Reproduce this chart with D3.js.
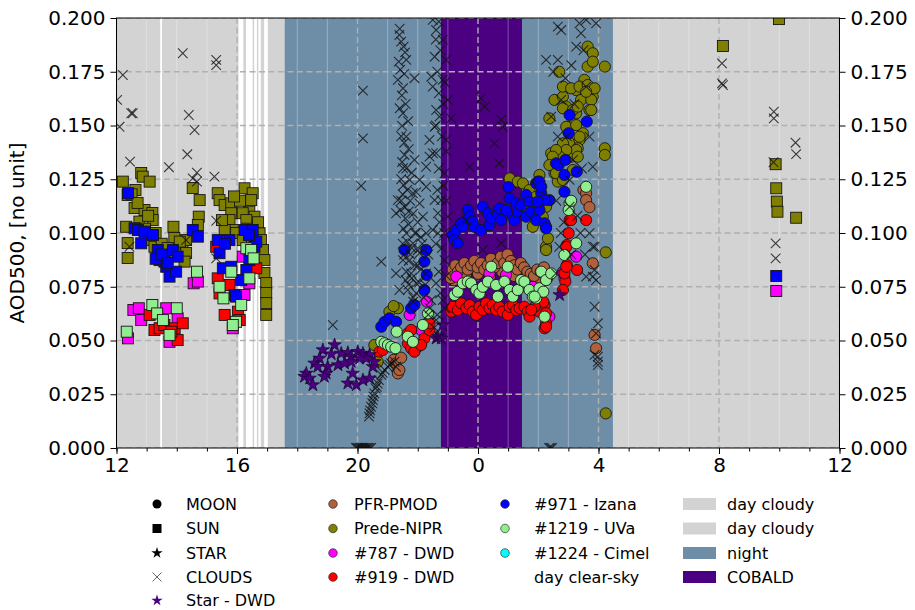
<!DOCTYPE html>
<html>
<head>
<meta charset="utf-8">
<script src="https://cdn.jsdelivr.net/npm/d3@7"></script>
<style>
  body { margin: 0; background: #fff; }
  svg { font-family: "DejaVu Sans", sans-serif; }
</style>
</head>
<body>
<svg id="chart" width="915" height="610"></svg>
<script>
// Time axis: hours since midnight of day 1 (12 = noon day 1, 36 = noon day 2); AOD at 500 nm.

const xTicks = [12, 16, 20, 24, 28, 32, 36];
const yTicks = [0, 0.025, 0.05, 0.075, 0.1, 0.125, 0.15, 0.175, 0.2];

// Background periods [start hour, end hour]
const dayCloudySpans = [[12, 17.58], [28.48, 36]];
const clearSkySpans = [[13.45, 13.51], [16.05, 16.21], [16.30, 16.52], [16.57, 16.66], [16.71, 16.79], [16.90, 17.02]];
const nightSpans = [[17.58, 28.48]];
const cobaldSpans = [[22.77, 25.46]];

// SUN photometry (squares)
const sunPrede = [
  [12.21,0.1239],[12.82,0.1279],[12.87,0.1262],[13.10,0.1239],[12.63,0.1200],[12.37,0.1177],[12.60,0.1116],[12.93,0.1107],
  [13.19,0.1093],[13.20,0.1060],[12.32,0.1029],[12.37,0.0953],[12.37,0.0884],[12.76,0.1053],[13.10,0.0967],[13.26,0.0936],
  [13.43,0.0913],[13.59,0.0898],[13.89,0.1029],[13.92,0.0977],[14.19,0.0936],[14.31,0.0907],[14.26,0.0867],[14.53,0.1209],
  [14.76,0.1153],[14.73,0.1076],[14.70,0.1037],[15.36,0.1185],[15.42,0.1153],[15.59,0.1130],[15.81,0.1138],[15.81,0.1092],
  [15.75,0.1060],[15.86,0.1014],[15.59,0.1014],[16.25,0.1208],[16.52,0.1185],[16.47,0.1153],[16.41,0.1099],[16.58,0.1076],
  [16.64,0.1029],[16.75,0.0999],[16.80,0.0967],[16.86,0.0921],[16.91,0.0874],[16.91,0.0814],[16.97,0.0767],[16.97,0.0721],
  [16.97,0.0674],[16.97,0.0619],[16.19,0.1092],[16.31,0.1060],[15.97,0.1000],[16.19,0.0967],[14.31,0.0967],
  [12.50,0.1180],[12.70,0.1140],[12.95,0.1020],[13.05,0.1080],[13.30,0.1000],[13.50,0.0950],[13.70,0.0930],[13.95,0.0900],
  [14.10,0.0960],[16.10,0.1150],[16.35,0.1020],[16.50,0.0960],[16.70,0.1050],[15.50,0.1060],[15.90,0.1170],
  [32.13,0.1870],[33.99,0.1995],[33.88,0.1320],[33.90,0.1208],[33.92,0.1146],[33.94,0.1099],[34.56,0.1071]
];
const sun787 = [
  [12.38,0.0510],[12.56,0.0642],[12.74,0.0650],[12.82,0.0595],[13.65,0.0650],[14.03,0.0603],[13.76,0.0494],[14.56,0.0766],
  [14.70,0.0774],[15.86,0.0557],[16.25,0.0712],[16.19,0.0890],[16.41,0.0766],[33.90,0.0730]
];
const sun919 = [
  [13.10,0.0619],[13.26,0.0549],[13.43,0.0557],[13.59,0.0572],[13.93,0.0557],[14.03,0.0502],[14.20,0.0580],[13.82,0.0541],
  [15.36,0.0789],[15.42,0.0719],[15.59,0.0619],[15.75,0.0758],[16.03,0.0634],[16.09,0.0595],[16.64,0.0836],[15.31,0.0936]
];
const sun971 = [
  [12.38,0.1185],[12.60,0.1022],[12.71,0.1014],[12.93,0.1006],[13.21,0.0991],[12.82,0.0952],[13.37,0.0921],[13.43,0.0874],
  [13.59,0.0867],[13.65,0.0843],[13.76,0.0797],[13.87,0.0921],[14.03,0.0890],[13.98,0.0820],[14.53,0.1014],[14.70,0.0983],
  [15.36,0.0967],[15.42,0.0906],[15.75,0.0967],[15.53,0.0836],[15.81,0.0843],[15.92,0.0712],[15.97,0.0704],[16.25,0.1014],
  [16.52,0.1014],[16.41,0.0874],[16.31,0.0828],[16.14,0.0781],[16.58,0.0936],[16.64,0.0960],[13.30,0.0880],[13.50,0.0900],
  [13.70,0.0860],[15.60,0.0950],[16.40,0.0990],[33.90,0.0800]
];
const sun1219 = [
  [12.34,0.0541],[13.19,0.0665],[13.35,0.0626],[13.54,0.0595],[13.76,0.0526],[14.00,0.0650],[14.67,0.0820],[15.42,0.0750],
  [15.55,0.0696],[15.81,0.0820],[15.97,0.0587],[15.86,0.0572],[16.14,0.0665],[16.31,0.0929],[16.47,0.0921],[16.55,0.0882],
  [16.41,0.0789]
];

// MOON photometry (circles)
const moonPFR = [
  [21.20,0.0410],[21.28,0.0394],[21.34,0.0347],[21.39,0.0363],[21.45,0.0420],[22.00,0.0471],
  [23.20,0.0780],[23.60,0.0800],[24.00,0.0810],[24.40,0.0800],[24.80,0.0820],[25.20,0.0800],[25.60,0.0790],[26.00,0.0780],
  [23.10,0.0790],[23.16,0.0830],[23.25,0.0850],[23.33,0.0820],[23.44,0.0840],[23.55,0.0860],[23.66,0.0830],[23.77,0.0850],
  [23.88,0.0870],[23.99,0.0840],[24.10,0.0860],[24.21,0.0830],[24.32,0.0850],[24.43,0.0880],[24.54,0.0840],[24.65,0.0860],
  [24.76,0.0890],[24.87,0.0860],[24.98,0.0900],[25.09,0.0870],[25.20,0.0850],[25.31,0.0830],[25.42,0.0860],[25.53,0.0840],
  [25.64,0.0820],[25.75,0.0810],[25.86,0.0800],[25.97,0.0830],[26.08,0.0820],[26.19,0.0840],[26.30,0.0790],
  [27.50,0.1200],[27.59,0.1185],[27.59,0.1153],[27.70,0.1120],[27.81,0.0859],[27.87,0.0526],[27.92,0.0464]
];
const moonPrede = [
  [20.56,0.0479],[20.67,0.0401],[21.06,0.0634],[21.34,0.0650],[21.20,0.0660],
  [25.05,0.1254],[25.32,0.1239],[25.49,0.1231],[25.71,0.1200],[25.82,0.1153],[25.71,0.1092],[25.93,0.1076],[25.82,0.1029],
  [26.04,0.1270],[26.26,0.1122],[26.26,0.1029],[26.26,0.0936],[26.32,0.0975],[26.26,0.0921],[26.15,0.1076],
  [26.37,0.1533],[26.54,0.1619],[26.70,0.1750],[26.43,0.1371],[26.54,0.1278],[26.65,0.1239],[26.59,0.1324],
  [26.82,0.1634],[26.93,0.1588],[26.98,0.1494],[27.04,0.1417],[27.09,0.1355],[27.15,0.1293],
  [27.26,0.1665],[27.42,0.1619],[27.26,0.1557],[27.48,0.1464],[27.37,0.1433],[27.31,0.1394],
  [27.53,0.1712],[27.64,0.1774],[27.81,0.1634],[27.70,0.1572],[27.64,0.1867],[27.81,0.1836],[27.81,0.1797],
  [26.82,0.1681],[27.09,0.1673],[27.37,0.1681],[27.64,0.1688],[27.87,0.1673],[27.76,0.1619],[27.59,0.1657],
  [26.82,0.1580],[27.15,0.1572],[27.31,0.1588],[27.76,0.1572],
  [26.93,0.1494],[27.26,0.1502],[27.37,0.1448],[27.26,0.1386],[27.31,0.1355],[26.82,0.1417],[26.93,0.1386],[26.71,0.1355],
  [26.59,0.1386],[26.48,0.1355],[26.37,0.1316],[26.59,0.1278],[26.82,0.1247],[25.77,0.1146],[25.93,0.1169],
  [28.21,0.1774],[28.21,0.1394],[28.21,0.1363],[28.24,0.0910],[28.24,0.0161]
];
const moon787 = [
  [21.73,0.0619],[22.30,0.0681],[22.11,0.0549],[23.28,0.0797],[24.38,0.0812],[24.93,0.0805],[25.82,0.0750],[26.15,0.0650],
  [27.26,0.0890],[26.82,0.0820],[26.37,0.0611],[26.87,0.0790]
];
const moon919 = [
  [20.73,0.0448],[20.84,0.0456],[21.67,0.0533],[21.78,0.0549],[21.67,0.0487],[21.78,0.0464],[21.89,0.0448],[22.22,0.0510],
  [22.39,0.0549],[22.39,0.0580],[22.11,0.0479],
  [23.11,0.0634],[23.16,0.0657],[23.33,0.0642],[23.44,0.0673],[23.61,0.0650],[23.72,0.0665],[23.83,0.0634],[23.94,0.0619],
  [24.05,0.0657],[24.16,0.0642],[24.27,0.0673],[24.38,0.0650],[24.49,0.0665],[24.60,0.0642],[24.71,0.0657],[24.82,0.0634],
  [24.99,0.0619],[25.05,0.0657],[25.16,0.0665],[25.27,0.0642],[25.38,0.0650],[25.54,0.0657],[25.65,0.0634],[25.71,0.0611],
  [25.82,0.0642],[25.93,0.0657],[26.04,0.0634],[26.21,0.0665],[26.26,0.0627],
  [26.21,0.0557],[26.26,0.0580],
  [27.04,0.1060],[27.01,0.0999],[26.95,0.0944],[26.95,0.0851],[26.90,0.0774],[26.82,0.0735],[27.59,0.1060],[27.29,0.0828],
  [26.87,0.0812],[26.93,0.0843],[26.93,0.0936],[27.09,0.1060],
  [26.17,0.0680],[26.26,0.0564],[25.88,0.0657],[25.77,0.0642]
];
const moon971 = [
  [20.79,0.0564],[20.90,0.0587],[21.06,0.0603],[21.28,0.0587],[21.78,0.0650],[21.89,0.0665],[21.56,0.0921],[22.28,0.0921],
  [22.22,0.0867],[22.30,0.0805],[22.22,0.0735],
  [23.16,0.0991],[23.22,0.0967],[23.28,0.1014],[23.33,0.0952],[23.44,0.1045],[23.50,0.1029],[23.66,0.1107],[23.72,0.1076],
  [23.83,0.1053],[23.88,0.1029],[24.10,0.1014],[24.16,0.1122],[24.33,0.1092],[24.38,0.1037],[24.44,0.1068],[24.66,0.1092],
  [24.71,0.1115],[24.77,0.1060],[24.93,0.1107],[25.01,0.1213],[25.05,0.1161],[25.16,0.1076],[25.21,0.1060],[25.27,0.1138],
  [25.32,0.1099],[25.43,0.1130],[25.60,0.1177],[25.71,0.1146],[25.60,0.1076],[25.76,0.1099],[25.93,0.1060],[25.93,0.1231],
  [26.04,0.1107],[26.10,0.1185],[26.21,0.1045],[26.26,0.1022],[25.99,0.1239],[26.37,0.1153],
  [27.04,0.1549],[27.61,0.1518],[27.01,0.1464],[26.59,0.1324],[26.68,0.1316],[26.90,0.1340],[27.28,0.1285],[26.87,0.1270],
  [26.04,0.1239],[26.10,0.1215],[26.21,0.1153],[25.99,0.1146],[26.87,0.1192]
];
const moon1219 = [
  [20.79,0.0494],[20.90,0.0487],[21.01,0.0479],[21.12,0.0471],[21.26,0.0464],[21.30,0.0541],[21.67,0.0518],[21.84,0.0494],
  [22.34,0.0626],[22.17,0.0572],
  [23.22,0.0712],[23.33,0.0727],[23.50,0.0766],[23.66,0.0774],[23.77,0.0766],[23.94,0.0735],[24.05,0.0719],[24.16,0.0750],
  [24.33,0.0774],[24.44,0.0843],[24.60,0.0758],[24.66,0.0704],[24.88,0.0774],[24.99,0.0843],[25.05,0.0735],[25.16,0.0704],
  [25.32,0.0735],[25.43,0.0781],[25.54,0.0774],[25.71,0.0735],[25.82,0.0704],[25.93,0.0696],[26.04,0.0743],[26.10,0.0820],
  [26.21,0.0611],[26.26,0.0781],
  [27.04,0.1138],[27.01,0.1107],[27.26,0.0952],[26.87,0.0898],[26.43,0.0812],[26.17,0.0727],[25.88,0.0704],[27.59,0.1215],
  [27.09,0.1150]
];
const moon1224 = [];

// Star photometer
const starDWD = [
  [19.24,0.0479],[18.85,0.0456],[19.13,0.0437],[19.46,0.0440],[19.68,0.0443],[19.79,0.0425],[20.01,0.0448],[20.18,0.0440],
  [20.40,0.0433],[20.29,0.0417],[20.07,0.0417],[18.74,0.0417],[18.57,0.0394],[18.68,0.0378],[19.01,0.0378],[19.35,0.0386],
  [19.57,0.0394],[19.79,0.0401],[18.30,0.0347],[18.24,0.0332],[18.41,0.0324],[18.52,0.0293],[18.96,0.0347],[18.90,0.0332],
  [19.84,0.0347],[19.68,0.0301],[19.96,0.0293],[20.18,0.0316],[20.40,0.0324],[20.51,0.0378],[20.56,0.0401],
  [22.61,0.0510],[22.67,0.0518],[22.78,0.0510],[22.83,0.0572],[26.71,0.0712]
];

// Cloud-flagged retrievals (x markers)
const clouds = [
  [12.02,0.1619],[12.21,0.1735],[12.10,0.1494],[12.49,0.1557],[12.54,0.1557],[12.45,0.1332],[14.20,0.1836],[15.31,0.1805],
  [15.31,0.1781],[14.40,0.1549],[14.59,0.1479],[14.35,0.1366],[13.74,0.1306],[14.67,0.1281],[14.53,0.1254],[14.67,0.1239],
  [15.25,0.1262],[15.31,0.1057],[15.31,0.0882],[12.43,0.0936],[14.31,0.0967],
  [32.10,0.1789],[32.10,0.1696],[32.13,0.1688],[33.82,0.1564],[33.82,0.1533],[34.54,0.1420],[34.56,0.1367],[33.81,0.1329],
  [33.88,0.0952],[33.88,0.0882],
  [20.18,0.1662],[20.18,0.1440],[20.12,0.1219],[20.79,0.0867],[19.18,0.0572],
  [21.39,0.1921],[21.53,0.1867],[21.37,0.1797],[21.62,0.1805],[21.34,0.1712],[21.51,0.1673],[21.89,0.1720],[21.51,0.1557],
  [21.48,0.1498],[21.62,0.1448],[21.56,0.1363],[21.89,0.1340],[21.51,0.1301],[21.73,0.1247],[21.53,0.1223],[21.84,0.1185],
  [21.42,0.1107],[21.59,0.1068],[22.06,0.1138],[21.62,0.0999],[21.84,0.0952],[21.51,0.0874],[21.78,0.0812],[21.95,0.0766],
  [21.67,0.0735],[22.06,0.0906],[22.28,0.0999],[22.17,0.1076],[22.06,0.1247],[22.28,0.1308],[22.39,0.1355],[22.56,0.1494],
  [22.61,0.1572],[22.50,0.1681],[22.45,0.1727],[22.56,0.1820],[22.61,0.1944],[22.70,0.1983],[22.39,0.1433],[22.56,0.1153],
  [22.67,0.1092],[22.50,0.1014],[21.28,0.1092],[21.34,0.1153],[22.28,0.0812],[22.45,0.0688],[22.61,0.0595],[22.72,0.0518],
  [21.39,0.0735],[21.28,0.0812],[22.28,0.1215],[22.50,0.1371],[21.45,0.1150],[21.70,0.1100],[21.95,0.1000],[22.00,0.0850],
  [21.60,0.0780],[21.85,0.0700],[22.15,0.0950],[22.35,0.0900],[21.50,0.0950],[21.75,0.0900],
  [21.40,0.1950],[21.45,0.1890],[21.58,0.1840],[21.42,0.1760],[21.55,0.1740],[21.47,0.1640],[21.60,0.1600],[21.40,0.1580],
  [21.68,0.1520],[21.45,0.1450],[21.55,0.1420],[21.70,0.1390],[21.48,0.1330],[21.62,0.1300],[21.80,0.1280],[21.45,0.1250],
  [21.65,0.1200],[21.95,0.1190],[21.50,0.1180],[21.75,0.1150],[21.58,0.1120],[21.85,0.1090],[22.00,0.1050],[21.70,0.1040],
  [21.52,0.1020],[21.90,0.1000],[22.10,0.0980],[21.65,0.0960],[21.80,0.0930],[22.00,0.0920],[21.55,0.0900],[21.70,0.0870],
  [21.90,0.0850],[22.10,0.0830],[21.62,0.0820],[21.80,0.0790],[22.05,0.0770],[22.25,0.0760],[21.70,0.0760],[21.95,0.0720],
  [22.20,0.0700],[22.40,0.0650],[21.85,0.0680],[22.35,0.0620],[22.55,0.0560],
  [20.40,0.0161],[20.45,0.0192],[20.51,0.0223],[20.56,0.0254],[20.64,0.0285],[20.71,0.0316],[20.79,0.0340],[20.90,0.0363],
  [21.01,0.0378],[21.12,0.0394],[21.23,0.0401],[20.38,0.0146],[20.49,0.0208],[20.60,0.0278],[20.84,0.0350],[21.06,0.0386],
  [21.28,0.0378],[20.42,0.0175],[20.53,0.0240],[20.67,0.0300],
  [22.50,0.1991],[22.83,0.1898],[22.94,0.1805],[22.83,0.1712],[23.00,0.1619],[22.72,0.1541],[22.94,0.1433],[22.61,0.1371],
  [22.89,0.1278],[22.78,0.1153],[23.00,0.1076],[22.67,0.0999],[22.89,0.0874],[22.61,0.0766],[22.83,0.0688],
  [22.60,0.1900],[22.75,0.1850],[22.65,0.1750],[22.90,0.1700],[22.70,0.1650],[22.85,0.1600],[22.60,0.1500],[22.80,0.1450],
  [22.95,0.1380],[22.70,0.1300],[22.85,0.1220],[22.65,0.1200],[22.95,0.1150],[22.72,0.1050],[22.88,0.1000],[22.60,0.0950],
  [22.80,0.0930],[22.95,0.0800],[22.70,0.0820],[22.75,0.0720],[22.90,0.0650],[22.65,0.0620],
  [24.10,0.1626],[24.22,0.1588],[24.77,0.1526],[24.82,0.1494],[24.55,0.1417],[24.71,0.1324],[23.11,0.1533],[23.72,0.1308],
  [24.77,0.0952],[24.16,0.0921],[23.61,0.1060],
  [26.26,0.1805],[26.65,0.1805],[26.65,0.1960],[26.76,0.1944],[27.37,0.1975],[27.42,0.1929],[27.59,0.1991],[27.92,0.1975],
  [27.26,0.1867],[27.59,0.1681],[27.70,0.1448],[27.81,0.1308],[27.70,0.0999],[27.87,0.0936],[27.81,0.0797],[27.87,0.0657],
  [27.98,0.0580],[27.92,0.0533],[27.98,0.0401],[27.87,0.0433],[26.65,0.1448],[26.43,0.1541],[26.76,0.1619],[27.15,0.1340],
  [27.04,0.1247],[27.59,0.0797],[27.04,0.1122],[26.70,0.0936],[26.59,0.0812],[27.81,0.0936],[27.87,0.0828],[27.92,0.0781],
  [27.98,0.0425],[27.98,0.0386],
  [26.50,0.1750],[26.90,0.1720],[27.10,0.1780],[27.50,0.1850],[27.20,0.1600],[26.95,0.1450],[27.45,0.1300],[26.60,0.1150],
  [26.85,0.1050],[27.30,0.1080],[27.40,0.1000],[26.75,0.1000],[27.10,0.0900],[27.55,0.0900],
  [19.95,0],[19.99,0],[20.03,0],[20.07,0],[20.11,0],[20.15,0],[20.19,0],[20.23,0],[20.27,0],[20.31,0],[20.35,0],[20.40,0],
  [20.45,0],[26.36,0],[26.41,0],[26.46,0]
];

// Legend content
const legendShapeLabels = ["MOON", "SUN", "STAR", "CLOUDS", "Star - DWD"];
const legendInstrumentLabels = ["PFR-PMOD", "Prede-NIPR", "#787 - DWD", "#919 - DWD", "#971 - Izana", "#1219 - UVa", "#1224 - Cimel"];
const legendPeriodLabels = ["day clear-sky", "day cloudy", "day cloudy", "night", "COBALD"];

const colors = {
  pfr: "#b0603a", prede: "#808000", d787: "#ff00ff", d919: "#ff0000",
  izana: "#0000ff", uva: "#90ee90", cimel: "#00ffff", starDWD: "#4b0082",
  dayCloudy: "#d3d3d3", clear: "#ffffff", night: "#6e8ea8", cobald: "#4b0082"
};

const L = 116.5, R = 839.5, T = 18, B = 448;
const svg = d3.select("#chart");
const x = d3.scaleLinear().domain([12, 36]).range([L, R]);
const y = d3.scaleLinear().domain([0, 0.2]).range([B, T]);

svg.append("defs").append("clipPath").attr("id", "plotClip")
  .append("rect").attr("x", L).attr("y", T).attr("width", R - L).attr("height", B - T);

// Background periods
const bg = svg.append("g").attr("clip-path", "url(#plotClip)");
bg.append("rect").attr("x", L).attr("y", T).attr("width", R - L).attr("height", B - T).attr("fill", "#fff");
function spans(list, color) {
  bg.selectAll(null).data(list).join("rect")
    .attr("x", d => x(d[0])).attr("width", d => x(d[1]) - x(d[0]))
    .attr("y", T).attr("height", B - T).attr("fill", color);
}
spans(dayCloudySpans, colors.dayCloudy);
spans(clearSkySpans, colors.clear);
spans(nightSpans, colors.night);
spans(cobaldSpans, colors.cobald);

// Grid: faint hourly lines, dashed major lines
const hours = d3.range(12, 37);
bg.selectAll(null).data(hours.filter(h => !xTicks.includes(h))).join("line")
  .attr("x1", d => x(d)).attr("x2", d => x(d)).attr("y1", T).attr("y2", B)
  .attr("stroke", "#ffffff").attr("stroke-opacity", 0.3).attr("stroke-width", 1);
const dash = "6,3.5";
bg.selectAll(null).data(xTicks).join("line")
  .attr("x1", d => x(d)).attr("x2", d => x(d)).attr("y1", T).attr("y2", B)
  .attr("stroke", "#b0b0b0").attr("stroke-width", 1.4).attr("stroke-dasharray", dash);
bg.selectAll(null).data(yTicks).join("line")
  .attr("x1", L).attr("x2", R).attr("y1", d => y(d)).attr("y2", d => y(d))
  .attr("stroke", "#b0b0b0").attr("stroke-width", 1.4).attr("stroke-dasharray", dash);

// Markers
const pts = svg.append("g").attr("clip-path", "url(#plotClip)");
const edge = "#151515";
function squares(data, color) {
  pts.append("g").selectAll("rect").data(data).join("rect")
    .attr("x", d => x(d[0]) - 5.5).attr("y", d => y(d[1]) - 5.5)
    .attr("width", 11).attr("height", 11)
    .attr("fill", color).attr("stroke", edge).attr("stroke-width", 0.9);
}
function circles(data, color) {
  pts.append("g").selectAll("circle").data(data).join("circle")
    .attr("cx", d => x(d[0])).attr("cy", d => y(d[1])).attr("r", 5.6)
    .attr("fill", color).attr("stroke", edge).attr("stroke-width", 0.9);
}
const starPath = d3.symbol(d3.symbolStar, 55)();
function stars(data, color) {
  pts.append("g").selectAll("path").data(data).join("path")
    .attr("d", starPath).attr("transform", d => `translate(${x(d[0])},${y(d[1])})`)
    .attr("fill", color).attr("stroke", "#1a0030").attr("stroke-width", 0.7);
}
const crossPath = "M-4.8,-4.8L4.8,4.8M-4.8,4.8L4.8,-4.8";
function crosses(data) {
  pts.append("g").selectAll("path").data(data).join("path")
    .attr("d", crossPath).attr("transform", d => `translate(${x(d[0])},${y(d[1])})`)
    .attr("fill", "none").attr("stroke", "#111").attr("stroke-opacity", 0.8).attr("stroke-width", 1.1);
}

squares(sunPrede, colors.prede);
squares(sun787, colors.d787);
squares(sun919, colors.d919);
squares(sun971, colors.izana);
squares(sun1219, colors.uva);

circles(moonPFR, colors.pfr);
circles(moonPrede, colors.prede);
circles(moon787, colors.d787);
circles(moon919, colors.d919);
circles(moon971, colors.izana);
circles(moon1219, colors.uva);
circles(moon1224, colors.cimel);

stars(starDWD, colors.starDWD);
crosses(clouds);

// Axes
const fontSize = "20px";
function styleAxis(g) {
  g.select(".domain").remove();
  g.selectAll("text").attr("font-size", fontSize).attr("font-family", "DejaVu Sans, sans-serif").attr("fill", "#000");
  g.selectAll("line").attr("stroke", "#000").attr("stroke-width", 1);
}
svg.append("g").attr("transform", `translate(${L},0)`)
  .call(d3.axisLeft(y).tickValues(yTicks).tickFormat(d3.format(".3f")).tickSize(6).tickPadding(5)).call(styleAxis);
svg.append("g").attr("transform", `translate(${R},0)`)
  .call(d3.axisRight(y).tickValues(yTicks).tickFormat(d3.format(".3f")).tickSize(6).tickPadding(5)).call(styleAxis);
svg.append("g").attr("transform", `translate(0,${B})`)
  .call(d3.axisBottom(x).tickValues(hours).tickFormat("").tickSize(3.5)).call(styleAxis);
svg.append("g").attr("transform", `translate(0,${B})`)
  .call(d3.axisBottom(x).tickValues(xTicks).tickFormat(d => d % 24).tickSize(6).tickPadding(4)).call(styleAxis);

svg.append("rect").attr("x", L).attr("y", T).attr("width", R - L).attr("height", B - T)
  .attr("fill", "none").attr("stroke", "#000").attr("stroke-width", 1);

svg.append("text").attr("transform", `translate(24,${(T + B) / 2}) rotate(-90)`)
  .attr("text-anchor", "middle").attr("font-size", fontSize).text("AOD500, [no unit]");

// Legend
const leg = svg.append("g").attr("font-size", "16px");
const rowY = [504, 528.5, 553, 577, 600.5];
const legendItems = [
  { col: 0, row: 0, label: legendShapeLabels[0], kind: "circle", color: "#000" },
  { col: 0, row: 1, label: legendShapeLabels[1], kind: "square", color: "#000" },
  { col: 0, row: 2, label: legendShapeLabels[2], kind: "star", color: "#000" },
  { col: 0, row: 3, label: legendShapeLabels[3], kind: "cross", color: "#666" },
  { col: 0, row: 4, label: legendShapeLabels[4], kind: "star", color: colors.starDWD },
  { col: 1, row: 0, label: legendInstrumentLabels[0], kind: "mcircle", color: colors.pfr },
  { col: 1, row: 1, label: legendInstrumentLabels[1], kind: "mcircle", color: colors.prede },
  { col: 1, row: 2, label: legendInstrumentLabels[2], kind: "mcircle", color: colors.d787 },
  { col: 1, row: 3, label: legendInstrumentLabels[3], kind: "mcircle", color: colors.d919 },
  { col: 2, row: 0, label: legendInstrumentLabels[4], kind: "mcircle", color: colors.izana },
  { col: 2, row: 1, label: legendInstrumentLabels[5], kind: "mcircle", color: colors.uva },
  { col: 2, row: 2, label: legendInstrumentLabels[6], kind: "mcircle", color: colors.cimel },
  { col: 2, row: 3, label: legendPeriodLabels[0], kind: "patch", color: colors.clear },
  { col: 3, row: 0, label: legendPeriodLabels[1], kind: "patch", color: colors.dayCloudy },
  { col: 3, row: 1, label: legendPeriodLabels[2], kind: "patch", color: colors.dayCloudy },
  { col: 3, row: 2, label: legendPeriodLabels[3], kind: "patch", color: colors.night },
  { col: 3, row: 3, label: legendPeriodLabels[4], kind: "patch", color: colors.cobald }
];
const colMarkerX = [157, 333, 505, 700];
const colTextX = [186, 354, 534, 727];
legendItems.forEach(it => {
  const cx = colMarkerX[it.col], cy = rowY[it.row];
  const g = leg.append("g");
  if (it.kind === "circle") g.append("circle").attr("cx", cx).attr("cy", cy).attr("r", 4.5).attr("fill", it.color);
  if (it.kind === "square") g.append("rect").attr("x", cx - 4.5).attr("y", cy - 4.5).attr("width", 9).attr("height", 9).attr("fill", it.color);
  if (it.kind === "star") g.append("path").attr("d", d3.symbol(d3.symbolStar, 40)()).attr("transform", `translate(${cx},${cy})`).attr("fill", it.color);
  if (it.kind === "cross") g.append("path").attr("d", "M-4.5,-4.5L4.5,4.5M-4.5,4.5L4.5,-4.5").attr("transform", `translate(${cx},${cy})`).attr("stroke", it.color).attr("stroke-width", 1);
  if (it.kind === "mcircle") g.append("circle").attr("cx", cx).attr("cy", cy).attr("r", 4.3).attr("fill", it.color).attr("stroke", edge).attr("stroke-width", 0.6);
  if (it.kind === "patch") g.append("rect").attr("x", cx - 17).attr("y", cy - 6).attr("width", 33).attr("height", 12).attr("fill", it.color);
  g.append("text").attr("x", colTextX[it.col]).attr("y", cy).attr("dy", "0.36em").text(it.label);
});
</script>
</body>
</html>
